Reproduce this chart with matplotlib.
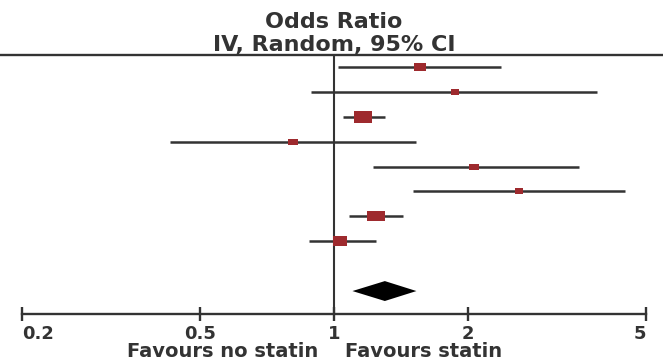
import numpy as np
import matplotlib
matplotlib.use('Agg')
import matplotlib.pyplot as plt
import matplotlib.ticker as ticker

# ── Data ──────────────────────────────────────────────────────────────────────
ODDS   = [1.56, 1.87, 1.16, 0.81, 2.06, 2.60, 1.24, 1.03]
LOWER  = [1.02, 0.89, 1.05, 0.43, 1.22, 1.50, 1.08, 0.88]
UPPER  = [2.37, 3.88, 1.30, 1.53, 3.54, 4.49, 1.43, 1.24]
WEIGHT = [12.6, 4.8, 24.2, 7.5, 7.5, 4.8, 21.6, 16.8]   # % weight (approx.)

POOLED = (1.10, 1.30, 1.53)   # lower, estimate, upper

TICKS       = [0.2, 0.5, 1, 2, 5]
TICK_LABELS = ['0.2', '0.5', '1', '2', '5']

# ── Style ─────────────────────────────────────────────────────────────────────
INK   = '#333333'
RED   = '#9e2a2e'
FONT  = 'DejaVu Sans'

rows = np.arange(1, len(ODDS) + 1)
diamond_row = len(ODDS) + 2
axis_y = 10.92
rule_y = 0.52

fig = plt.figure(figsize=(6.63, 3.62), dpi=100)
ax = fig.add_axes([0, 0, 1, 1])
ax.set_xscale('log')
ax.set_xlim(0.1786, 5.458)
ax.set_ylim(12.85, -1.69)

# header rule and line of no effect
ax.axhline(rule_y, color=INK, linewidth=1.7)
ax.vlines(1, rule_y, axis_y, color=INK, linewidth=1.5)

# confidence intervals
ax.hlines(rows, LOWER, UPPER, color=INK, linewidth=1.8, zorder=2)

# study markers (stretched boxes, size by weight)
box = [(-1.6, -1), (1.6, -1), (1.6, 1), (-1.6, 1), (-1.6, -1)]
for y, o, w in zip(rows, ODDS, WEIGHT):
    width_px = 18 * np.sqrt(w / max(WEIGHT))
    ax.plot(o, y, marker=box, markersize=width_px * 0.72,
            color=RED, markeredgewidth=0, linestyle='none', zorder=3)

# pooled diamond
lo, est, hi = POOLED
ax.fill([lo, est, hi, est], [diamond_row, diamond_row - 0.4, diamond_row, diamond_row + 0.4],
        color='black', linewidth=0, zorder=3)

# x axis drawn as a floating spine
for side in ['top', 'left', 'right']:
    ax.spines[side].set_visible(False)
ax.spines['bottom'].set_position(('data', axis_y))
ax.spines['bottom'].set_bounds(TICKS[0], TICKS[-1])
ax.spines['bottom'].set_linewidth(1.7)
ax.spines['bottom'].set_color(INK)
ax.set_yticks([])
ax.set_xticks(TICKS)
ax.xaxis.set_minor_locator(ticker.NullLocator())
ax.set_xticklabels(TICK_LABELS, fontsize=13, fontweight='bold', color=INK, family=FONT)
ax.tick_params(axis='x', direction='inout', length=10, width=1.7, color=INK, pad=3)
labels = ax.get_xticklabels()
labels[0].set_ha('left')
labels[-1].set_ha('right')

# header and footer texts
ax.text(1, -0.81, 'Odds Ratio', ha='center', va='center', fontsize=16,
        fontweight='bold', color=INK, family=FONT)
ax.text(1, 0.12, 'IV, Random, 95% CI', ha='center', va='center', fontsize=16,
        fontweight='bold', color=INK, family=FONT)
ax.text(0.92, 12.66, 'Favours no statin', ha='right', va='baseline', fontsize=14,
        fontweight='bold', color=INK, family=FONT)
ax.text(1.06, 12.66, 'Favours statin', ha='left', va='baseline', fontsize=14,
        fontweight='bold', color=INK, family=FONT)

fig.savefig('out.png', dpi=100)
